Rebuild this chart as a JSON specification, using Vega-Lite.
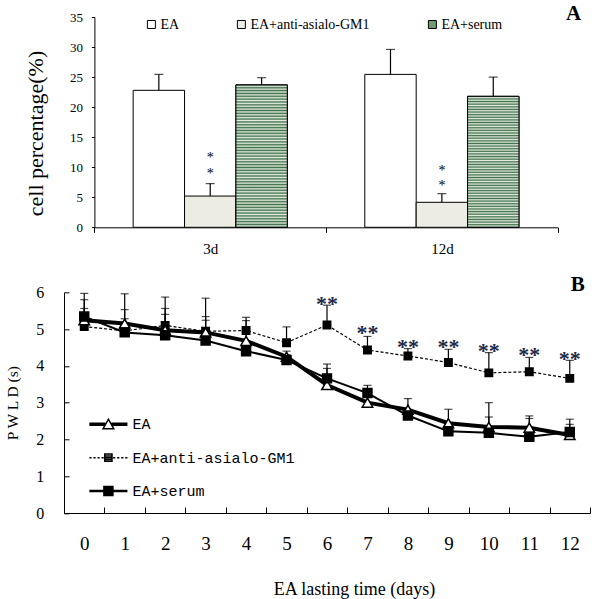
{
  "$schema": "https://vega.github.io/schema/vega-lite/v6.json",
  "background": "white",
  "padding": {"left": 5, "top": 2, "right": 0, "bottom": 0},
  "bounds": "flush",
  "spacing": 64.3,
  "resolve": {
    "scale": {"fill": "independent", "shape": "independent", "size": "independent", "color": "independent"},
    "legend": {"fill": "independent", "shape": "independent", "size": "independent", "color": "independent"}
  },
  "config": {
    "view": {"stroke": null},
    "font": "Liberation Serif",
    "axis": {"labelFont": "Liberation Serif", "titleFont": "Liberation Serif", "labelColor": "black", "titleColor": "black", "domainColor": "black", "tickColor": "black", "grid": false, "titleFontWeight": "normal", "domainWidth": 1, "tickWidth": 1}
  },
  "datasets": {
    "bars": [
      {"day": "3d", "series": "EA", "value": 22.8, "err": 25.45},
      {"day": "3d", "series": "EA+anti-asialo-GM1", "value": 5.2, "err": 7.27},
      {"day": "3d", "series": "EA+serum", "value": 23.7, "err": 24.9},
      {"day": "12d", "series": "EA", "value": 25.45, "err": 29.6},
      {"day": "12d", "series": "EA+anti-asialo-GM1", "value": 4.16, "err": 5.6},
      {"day": "12d", "series": "EA+serum", "value": 21.8, "err": 25.0}
    ],
    "starsA": [
      {"day": "3d", "series": "EA+anti-asialo-GM1", "y": 12.0},
      {"day": "3d", "series": "EA+anti-asialo-GM1", "y": 9.4},
      {"day": "12d", "series": "EA+anti-asialo-GM1", "y": 9.8},
      {"day": "12d", "series": "EA+anti-asialo-GM1", "y": 7.4}
    ],
    "lines": [
      {"day": 0, "series": "EA+anti-asialo-GM1", "value": 5.07, "err": 5.56},
      {"day": 1, "series": "EA+anti-asialo-GM1", "value": 4.95, "err": 5.28},
      {"day": 2, "series": "EA+anti-asialo-GM1", "value": 5.10, "err": 5.40},
      {"day": 3, "series": "EA+anti-asialo-GM1", "value": 4.94, "err": 5.34},
      {"day": 4, "series": "EA+anti-asialo-GM1", "value": 4.96, "err": 5.32},
      {"day": 5, "series": "EA+anti-asialo-GM1", "value": 4.63, "err": 5.06},
      {"day": 6, "series": "EA+anti-asialo-GM1", "value": 5.11, "err": 5.65},
      {"day": 7, "series": "EA+anti-asialo-GM1", "value": 4.43, "err": 4.80},
      {"day": 8, "series": "EA+anti-asialo-GM1", "value": 4.27, "err": 4.47},
      {"day": 9, "series": "EA+anti-asialo-GM1", "value": 4.09, "err": 4.45},
      {"day": 10, "series": "EA+anti-asialo-GM1", "value": 3.81, "err": 4.36},
      {"day": 11, "series": "EA+anti-asialo-GM1", "value": 3.84, "err": 4.23},
      {"day": 12, "series": "EA+anti-asialo-GM1", "value": 3.66, "err": 4.15},
      {"day": 0, "series": "EA", "value": 5.24, "err": 5.80},
      {"day": 1, "series": "EA", "value": 5.15, "err": 5.96},
      {"day": 2, "series": "EA", "value": 4.97, "err": 5.56},
      {"day": 3, "series": "EA", "value": 4.91, "err": 5.84},
      {"day": 4, "series": "EA", "value": 4.68, "err": 5.23},
      {"day": 5, "series": "EA", "value": 4.25, "err": 4.40},
      {"day": 6, "series": "EA", "value": 3.48, "err": 3.93},
      {"day": 7, "series": "EA", "value": 3.00, "err": 3.15},
      {"day": 8, "series": "EA", "value": 2.81, "err": 3.11},
      {"day": 9, "series": "EA", "value": 2.44, "err": 2.82},
      {"day": 10, "series": "EA", "value": 2.34, "err": 3.00},
      {"day": 11, "series": "EA", "value": 2.32, "err": 2.64},
      {"day": 12, "series": "EA", "value": 2.12, "err": 2.41},
      {"day": 0, "series": "EA+serum", "value": 5.34, "err": 5.97},
      {"day": 1, "series": "EA+serum", "value": 4.91, "err": 5.53},
      {"day": 2, "series": "EA+serum", "value": 4.83, "err": 5.87},
      {"day": 3, "series": "EA+serum", "value": 4.69, "err": 5.24},
      {"day": 4, "series": "EA+serum", "value": 4.40, "err": 4.55},
      {"day": 5, "series": "EA+serum", "value": 4.16, "err": 4.30},
      {"day": 6, "series": "EA+serum", "value": 3.66, "err": 4.05},
      {"day": 7, "series": "EA+serum", "value": 3.26, "err": 3.47},
      {"day": 8, "series": "EA+serum", "value": 2.65, "err": 2.80},
      {"day": 9, "series": "EA+serum", "value": 2.22, "err": 2.40},
      {"day": 10, "series": "EA+serum", "value": 2.18, "err": 2.61},
      {"day": 11, "series": "EA+serum", "value": 2.07, "err": 2.57},
      {"day": 12, "series": "EA+serum", "value": 2.20, "err": 2.55}
    ],
    "starsB": [
      {"day": 6, "y": 5.80},
      {"day": 7, "y": 4.99},
      {"day": 8, "y": 4.63},
      {"day": 9, "y": 4.62},
      {"day": 10, "y": 4.51},
      {"day": 11, "y": 4.40},
      {"day": 12, "y": 4.29}
    ]
  },
  "vconcat": [
    {
      "width": 493.7,
      "height": 210.3,
      "title": {"text": "A", "anchor": "end", "frame": "group", "fontSize": 21, "fontWeight": "bold", "font": "Liberation Serif", "baseline": "alphabetic", "offset": -29.6, "dx": 23.4, "color": "black"},
      "data": {"name": "bars"},
      "encoding": {
        "x": {"field": "day", "type": "nominal", "sort": ["3d", "12d"], "scale": {"range": [30.4, 493.7], "paddingInner": 0, "paddingOuter": 0}, "axis": {"title": null, "tickBand": "extent", "tickSize": 5, "labelPadding": 9.5, "labelFontSize": 15, "labelAngle": 0}},
        "xOffset": {"field": "series", "type": "nominal", "sort": ["EA", "EA+anti-asialo-GM1", "EA+serum"], "scale": {"paddingInner": 0, "paddingOuter": 0.754}},
        "y": {"field": "value", "type": "quantitative", "scale": {"domain": [0, 35], "nice": false}, "axis": {"title": "cell percentage(%)", "titleFontSize": 22, "titleY": 116, "values": [0, 5, 10, 15, 20, 25, 30, 35], "tickSize": 3, "labelPadding": 9, "labelFontSize": 13, "offset": -30.4, "titlePadding": 22}}
      },
      "layer": [
        {
          "mark": {"type": "bar", "stroke": "black", "strokeWidth": 1},
          "encoding": {
            "fill": {
              "field": "series", "type": "nominal",
              "scale": {"domain": ["EA", "EA+anti-asialo-GM1", "EA+serum"], "range": ["#ffffff", "#ecece4", "#6f9a72"]},
              "legend": {"title": null, "orient": "none", "legendX": 80.4, "legendY": 0.5, "direction": "horizontal", "symbolType": "square", "symbolSize": 64, "symbolStrokeColor": "black", "symbolStrokeWidth": 1, "labelFont": "Liberation Serif", "labelFontSize": 14, "labelColor": "black", "labelOffset": 2, "columnPadding": 55, "padding": 0, "labelLimit": 300}
            }
          }
        },
        {
          "transform": [{"filter": "datum.series === 'EA+serum'"}],
          "mark": {"type": "bar", "stroke": "black", "strokeWidth": 1, "fill": {"gradient": "linear", "x1": 0, "y1": 0, "x2": 0, "y2": 1, "stops": [
                  {"offset": 0, "color": "#3f7147"}, {"offset": 0.01, "color": "#e4ece2"}, {"offset": 0.02, "color": "#3f7147"}, {"offset": 0.03, "color": "#e4ece2"}, {"offset": 0.04, "color": "#3f7147"}, {"offset": 0.05, "color": "#e4ece2"}, {"offset": 0.06, "color": "#3f7147"}, {"offset": 0.07, "color": "#e4ece2"}, {"offset": 0.08, "color": "#3f7147"}, {"offset": 0.09, "color": "#e4ece2"},
                  {"offset": 0.10, "color": "#3f7147"}, {"offset": 0.11, "color": "#e4ece2"}, {"offset": 0.12, "color": "#3f7147"}, {"offset": 0.13, "color": "#e4ece2"}, {"offset": 0.14, "color": "#3f7147"}, {"offset": 0.15, "color": "#e4ece2"}, {"offset": 0.16, "color": "#3f7147"}, {"offset": 0.17, "color": "#e4ece2"}, {"offset": 0.18, "color": "#3f7147"}, {"offset": 0.19, "color": "#e4ece2"},
                  {"offset": 0.20, "color": "#3f7147"}, {"offset": 0.21, "color": "#e4ece2"}, {"offset": 0.22, "color": "#3f7147"}, {"offset": 0.23, "color": "#e4ece2"}, {"offset": 0.24, "color": "#3f7147"}, {"offset": 0.25, "color": "#e4ece2"}, {"offset": 0.26, "color": "#3f7147"}, {"offset": 0.27, "color": "#e4ece2"}, {"offset": 0.28, "color": "#3f7147"}, {"offset": 0.29, "color": "#e4ece2"},
                  {"offset": 0.30, "color": "#3f7147"}, {"offset": 0.31, "color": "#e4ece2"}, {"offset": 0.32, "color": "#3f7147"}, {"offset": 0.33, "color": "#e4ece2"}, {"offset": 0.34, "color": "#3f7147"}, {"offset": 0.35, "color": "#e4ece2"}, {"offset": 0.36, "color": "#3f7147"}, {"offset": 0.37, "color": "#e4ece2"}, {"offset": 0.38, "color": "#3f7147"}, {"offset": 0.39, "color": "#e4ece2"},
                  {"offset": 0.40, "color": "#3f7147"}, {"offset": 0.41, "color": "#e4ece2"}, {"offset": 0.42, "color": "#3f7147"}, {"offset": 0.43, "color": "#e4ece2"}, {"offset": 0.44, "color": "#3f7147"}, {"offset": 0.45, "color": "#e4ece2"}, {"offset": 0.46, "color": "#3f7147"}, {"offset": 0.47, "color": "#e4ece2"}, {"offset": 0.48, "color": "#3f7147"}, {"offset": 0.49, "color": "#e4ece2"},
                  {"offset": 0.50, "color": "#3f7147"}, {"offset": 0.51, "color": "#e4ece2"}, {"offset": 0.52, "color": "#3f7147"}, {"offset": 0.53, "color": "#e4ece2"}, {"offset": 0.54, "color": "#3f7147"}, {"offset": 0.55, "color": "#e4ece2"}, {"offset": 0.56, "color": "#3f7147"}, {"offset": 0.57, "color": "#e4ece2"}, {"offset": 0.58, "color": "#3f7147"}, {"offset": 0.59, "color": "#e4ece2"},
                  {"offset": 0.60, "color": "#3f7147"}, {"offset": 0.61, "color": "#e4ece2"}, {"offset": 0.62, "color": "#3f7147"}, {"offset": 0.63, "color": "#e4ece2"}, {"offset": 0.64, "color": "#3f7147"}, {"offset": 0.65, "color": "#e4ece2"}, {"offset": 0.66, "color": "#3f7147"}, {"offset": 0.67, "color": "#e4ece2"}, {"offset": 0.68, "color": "#3f7147"}, {"offset": 0.69, "color": "#e4ece2"},
                  {"offset": 0.70, "color": "#3f7147"}, {"offset": 0.71, "color": "#e4ece2"}, {"offset": 0.72, "color": "#3f7147"}, {"offset": 0.73, "color": "#e4ece2"}, {"offset": 0.74, "color": "#3f7147"}, {"offset": 0.75, "color": "#e4ece2"}, {"offset": 0.76, "color": "#3f7147"}, {"offset": 0.77, "color": "#e4ece2"}, {"offset": 0.78, "color": "#3f7147"}, {"offset": 0.79, "color": "#e4ece2"},
                  {"offset": 0.80, "color": "#3f7147"}, {"offset": 0.81, "color": "#e4ece2"}, {"offset": 0.82, "color": "#3f7147"}, {"offset": 0.83, "color": "#e4ece2"}, {"offset": 0.84, "color": "#3f7147"}, {"offset": 0.85, "color": "#e4ece2"}, {"offset": 0.86, "color": "#3f7147"}, {"offset": 0.87, "color": "#e4ece2"}, {"offset": 0.88, "color": "#3f7147"}, {"offset": 0.89, "color": "#e4ece2"},
                  {"offset": 0.90, "color": "#3f7147"}, {"offset": 0.91, "color": "#e4ece2"}, {"offset": 0.92, "color": "#3f7147"}, {"offset": 0.93, "color": "#e4ece2"}, {"offset": 0.94, "color": "#3f7147"}, {"offset": 0.95, "color": "#e4ece2"}, {"offset": 0.96, "color": "#3f7147"}, {"offset": 0.97, "color": "#e4ece2"}, {"offset": 0.98, "color": "#3f7147"}, {"offset": 0.99, "color": "#e4ece2"},
                  {"offset": 1, "color": "#3f7147"}
                ]}},
          "encoding": {}
        },
        {
          "mark": {"type": "rule", "color": "black", "strokeWidth": 1.2},
          "encoding": {"y2": {"field": "err"}}
        },
        {
          "mark": {"type": "tick", "color": "black", "size": 9, "thickness": 1.2},
          "encoding": {"y": {"field": "err", "type": "quantitative"}}
        },
        {
          "data": {"name": "starsA"},
          "mark": {"type": "text", "text": "*", "font": "Liberation Serif", "fontSize": 14, "baseline": "middle", "dy": 3, "color": "black"},
          "encoding": {"y": {"field": "y", "type": "quantitative"}}
        }
      ]
    },
    {
      "width": 526,
      "height": 220.7,
      "title": {"text": "B", "anchor": "end", "frame": "group", "fontSize": 21, "fontWeight": "bold", "font": "Liberation Serif", "baseline": "alphabetic", "offset": -27.4, "dx": -5.3, "color": "black"},
      "data": {"name": "lines"},
      "encoding": {
        "x": {"field": "day", "type": "ordinal", "scale": {"type": "band", "paddingInner": 0, "paddingOuter": 0}, "axis": {"title": "EA lasting time (days)", "titleFontSize": 18, "titleX": 290, "titlePadding": 27, "tickBand": "extent", "tickSize": -6, "labelPadding": 27.7, "labelFontSize": 19, "labelAngle": 0}},
        "y": {"field": "value", "type": "quantitative", "scale": {"domain": [0, 6], "nice": false}, "axis": {"title": "P W L D (s)", "titleFontSize": 15.5, "values": [0, 1, 2, 3, 4, 5, 6], "tickSize": -5, "labelPadding": 25.2, "labelFontSize": 16, "titlePadding": 15.5}}
      },
      "layer": [
        {
          "mark": {"type": "rule", "color": "black", "strokeWidth": 1.2},
          "encoding": {"y2": {"field": "err"}}
        },
        {
          "mark": {"type": "tick", "color": "black", "size": 8, "thickness": 1.2},
          "encoding": {"y": {"field": "err", "type": "quantitative"}}
        },
        {
          "transform": [{"filter": "datum.series === 'EA+anti-asialo-GM1'"}],
          "mark": {"type": "line", "color": "black", "strokeWidth": 1.2, "strokeDash": [3, 2]},
          "encoding": {}
        },
        {
          "transform": [{"filter": "datum.series === 'EA'"}],
          "mark": {"type": "line", "color": "black", "strokeWidth": 4},
          "encoding": {}
        },
        {
          "transform": [{"filter": "datum.series === 'EA+serum'"}],
          "mark": {"type": "line", "color": "black", "strokeWidth": 2},
          "encoding": {}
        },
        {
          "mark": {"type": "point", "filled": true, "stroke": "black", "strokeWidth": 1.5, "opacity": 1},
          "encoding": {
            "shape": {"condition": {"test": "datum.series === 'EA'", "value": "triangle-up"}, "value": "square"},
            "fill": {"condition": {"test": "datum.series === 'EA'", "value": "white"}, "value": "black"},
            "size": {"condition": [{"test": "datum.series === 'EA'", "value": 110}, {"test": "datum.series === 'EA+serum'", "value": 80}], "value": 55}
          }
        },
        {
          "transform": [{"filter": "false"}],
          "mark": {"type": "point", "filled": false, "color": "black", "strokeWidth": 1.5, "opacity": 1},
          "encoding": {
            "shape": {
              "field": "series", "type": "nominal",
              "scale": {"domain": ["EA", "EA+anti-asialo-GM1", "EA+serum"], "range": [
                "M-1.27,-0.07H-0.21M-1.27,0H-0.19M-1.27,0.07H-0.17M0.21,-0.07H1.27M0.19,0H1.27M0.17,0.07H1.27M-0.36,0.3L0,-0.34L0.36,0.3Z",
                "M-1.27,0H-1.12M-1,0H-0.85M-0.73,0H-0.58M-0.46,0H-0.31M0.31,0H0.46M0.58,0H0.73M0.85,0H1M1.12,0H1.27M-0.24,-0.24H0.24V0.24H-0.24ZM-0.24,-0.12H0.24M-0.24,0H0.24M-0.24,0.12H0.24",
                "M-1.27,-0.035H1.27M-1.27,0.035H1.27M-0.3,-0.3H0.3V0.3H-0.3ZM-0.3,-0.2H0.3M-0.3,-0.1H0.3M-0.3,0.1H0.3M-0.3,0.2H0.3"
              ]},
              "legend": {
                "title": null, "orient": "none", "legendX": 28.4, "legendY": 116, "direction": "vertical",
                "symbolSize": 900, "rowPadding": 9.4, "symbolStrokeColor": "black", "symbolStrokeWidth": 1.5, "symbolOpacity": 1,
                "labelFont": "Liberation Mono", "labelFontSize": 15, "labelColor": "black", "labelOffset": 8, "padding": 0, "labelLimit": 300
              }
            }
          }
        },
        {
          "data": {"name": "starsB"},
          "mark": {"type": "text", "text": "**", "font": "Liberation Serif", "fontSize": 22, "fontWeight": "bold", "baseline": "middle", "dy": 4, "color": "#1d2a4a"},
          "encoding": {"y": {"field": "y", "type": "quantitative"}}
        }
      ]
    }
  ]
}
